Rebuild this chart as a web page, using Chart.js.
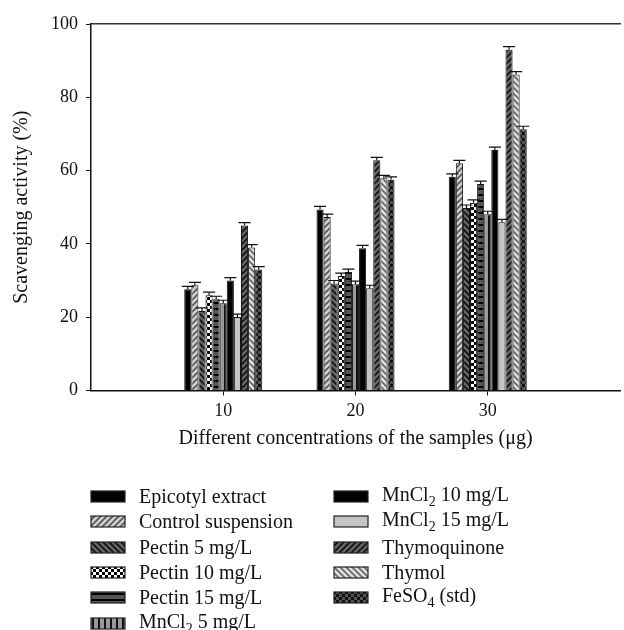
<!DOCTYPE html>
<html>
<head>
<meta charset="UTF-8">
<title>Scavenging activity</title>
<script src="https://cdn.jsdelivr.net/npm/chart.js"></script>
<style>
  body { margin: 0; background: #fff; font-family: "Liberation Serif", serif; }
  #wrap { position: relative; width: 624px; height: 455px; }
  #legend { position: absolute; left: 90px; top: 484px; width: 534px;
            display: grid; grid-template-columns: 243px 250px; grid-auto-flow: column;
            grid-template-rows: repeat(6, 25.3px); font-size: 20px; color: #111; }
  .item { display: flex; align-items: center; white-space: nowrap; }
  .item canvas { margin-right: 13px; }
  .item sub { font-size: 70%; }
</style>
</head>
<body>
<div id="wrap"><canvas id="myChart"></canvas></div>
<div id="legend"></div>
<script>
// data
var concentrations = [10, 20, 30];
var sampleNames = ['Epicotyl extract', 'Control suspension', 'Pectin 5 mg/L', 'Pectin 10 mg/L',
  'Pectin 15 mg/L', 'MnCl<sub>2</sub> 5 mg/L', 'MnCl<sub>2</sub> 10 mg/L', 'MnCl<sub>2</sub> 15 mg/L',
  'Thymoquinone', 'Thymol', 'FeSO<sub>4</sub> (std)'];
var epicotyl      = [27.6, 49.4, 58.3];
var control       = [28.7, 47.3, 62.0];
var pectin5       = [21.7, 29.2, 49.8];
var pectin10      = [26.0, 31.2, 51.2];
var pectin15      = [24.9, 32.3, 56.3];
var mncl5         = [23.8, 29.0, 48.1];
var mncl10        = [30.0, 38.8, 65.6];
var mncl15        = [20.0, 27.9, 45.9];
var thymoquinone  = [45.0, 62.8, 93.0];
var thymol        = [39.0, 57.9, 86.2];
var feso4         = [33.0, 57.5, 71.3];
var errorSize     = [0.8, 0.8, 0.8];
var yTicks = [0, 20, 40, 60, 80, 100];

var series = [epicotyl, control, pectin5, pectin10, pectin15, mncl5, mncl10, mncl15, thymoquinone, thymol, feso4];
var fills = ['solid:#000', 'diagUp:#d0d0d0:#555', 'diagDown:#666:#111', 'checker:#fff:#000',
  'hstripe:#555:#000', 'vstripe:#999:#111', 'solid:#000', 'solid:#c4c4c4',
  'diagUp:#666:#111', 'diagDown:#e0e0e0:#666', 'checker:#555:#111'];

function makeFill(spec) {
  var p = spec.split(':');
  if (p[0] === 'solid') return p[1];
  var c = document.createElement('canvas');
  c.width = 6; c.height = 6;
  var g = c.getContext('2d');
  g.fillStyle = p[1];
  g.fillRect(0, 0, 6, 6);
  g.strokeStyle = p[2];
  g.fillStyle = p[2];
  g.lineWidth = 1.6;
  if (p[0] === 'diagUp') {
    g.beginPath(); g.moveTo(-1, 7); g.lineTo(7, -1);
    g.moveTo(-4, 4); g.lineTo(4, -4); g.moveTo(2, 10); g.lineTo(10, 2); g.stroke();
  } else if (p[0] === 'diagDown') {
    g.beginPath(); g.moveTo(-1, -1); g.lineTo(7, 7);
    g.moveTo(-4, 2); g.lineTo(4, 10); g.moveTo(2, -4); g.lineTo(10, 4); g.stroke();
  } else if (p[0] === 'checker') {
    g.fillRect(0, 0, 3, 3); g.fillRect(3, 3, 3, 3);
  } else if (p[0] === 'hstripe') {
    g.fillRect(0, 2, 6, 2);
  } else if (p[0] === 'vstripe') {
    g.fillRect(2, 0, 2, 6);
  }
  var ctx0 = document.createElement('canvas').getContext('2d');
  return ctx0.createPattern(c, 'repeat');
}
var patterns = fills.map(makeFill);

var datasets = series.map(function (vals, i) {
  return {
    label: sampleNames[i].replace(/<[^>]+>/g, ''),
    data: vals.map(function (v, j) { return { x: concentrations[j], y: v }; }),
    backgroundColor: patterns[i],
    borderColor: '#111',
    borderWidth: 1,
    categoryPercentage: 0.59,
    barPercentage: 1.0
  };
});

var errorBars = {
  id: 'errorBars',
  afterDatasetsDraw: function (chart) {
    var c = chart.ctx, ys = chart.scales.y;
    c.save();
    c.strokeStyle = '#111';
    c.lineWidth = 1.2;
    chart.data.datasets.forEach(function (ds, i) {
      chart.getDatasetMeta(i).data.forEach(function (bar, j) {
        var top = ys.getPixelForValue(series[i][j] + errorSize[j]);
        var half = bar.width / 2 + 2.5;
        c.beginPath();
        c.moveTo(bar.x, bar.y); c.lineTo(bar.x, top);
        c.moveTo(bar.x - half, top); c.lineTo(bar.x + half, top);
        c.stroke();
      });
    });
    c.restore();
  }
};

Chart.defaults.font.family = '"Liberation Serif", serif';
Chart.defaults.font.size = 18;
Chart.defaults.color = '#111';

var ctx = document.getElementById('myChart').getContext('2d');
var chart = new Chart(ctx, {
  type: 'bar',
  data: { datasets: datasets },
  plugins: [errorBars],
  options: {
    responsive: true,
    maintainAspectRatio: false,
    animation: false,
    layout: { padding: { top: 16, right: 4, left: 6 } },
    plugins: { legend: { display: false }, tooltip: { enabled: false } },
    scales: {
      x: {
        type: 'linear', min: 0, max: 40, offset: false,
        afterBuildTicks: function (s) { s.ticks = concentrations.map(function (v) { return { value: v }; }); },
        grid: { display: true, drawOnChartArea: false, offset: false, tickLength: 5, tickColor: '#111' },
        border: { color: '#111', width: 1.5 },
        ticks: { padding: 5 },
        title: { display: true, text: 'Different concentrations of the samples (\u03BCg)', font: { size: 20 }, padding: { top: 0 } }
      },
      x2: {
        type: 'linear', position: 'top', min: 0, max: 40,
        grid: { display: false },
        ticks: { display: false },
        border: { color: '#333', width: 1.5 }
      },
      y: {
        min: 0, max: 100,
        afterBuildTicks: function (s) { s.ticks = yTicks.map(function (v) { return { value: v }; }); },
        grid: { display: true, drawOnChartArea: false, tickLength: 5, tickColor: '#111' },
        border: { color: '#111', width: 1.5 },
        ticks: { padding: 8 },
        title: { display: true, text: 'Scavenging activity (%)', font: { size: 20 }, padding: { top: 4, bottom: 9 } }
      }
    }
  }
});

// html legend with subscripts
var legend = document.getElementById('legend');
sampleNames.forEach(function (name, i) {
  var item = document.createElement('div');
  item.className = 'item';
  var sw = document.createElement('canvas');
  sw.width = 36; sw.height = 13;
  var g = sw.getContext('2d');
  g.fillStyle = patterns[i];
  g.fillRect(1, 1, 34, 11);
  g.strokeStyle = '#222';
  g.lineWidth = 1.2;
  g.strokeRect(1, 1, 34, 11);
  item.appendChild(sw);
  var t = document.createElement('span');
  t.innerHTML = name;
  item.appendChild(t);
  legend.appendChild(item);
});
</script>
</body>
</html>
